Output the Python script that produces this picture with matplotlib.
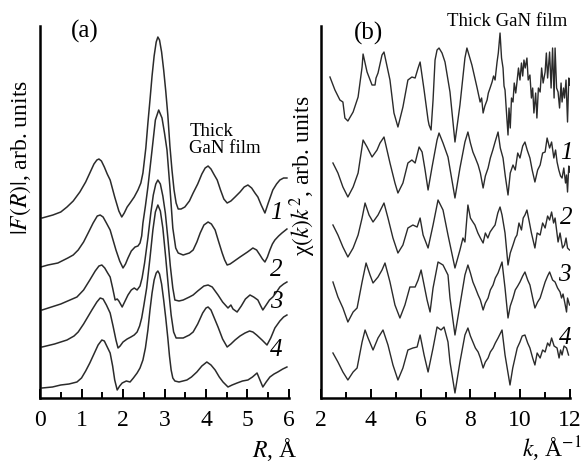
import matplotlib
matplotlib.use('Agg')
import matplotlib.pyplot as plt
from matplotlib.ticker import MultipleLocator

# ---- panel (a): |F(R)| curves, R in Angstrom, arb. units ----
R_thick = [0.05, 0.31, 0.5, 0.65, 0.8, 0.96, 1.1, 1.2, 1.3, 1.37, 1.42, 1.48, 1.55, 1.62, 1.69, 1.8,
           1.9, 1.97, 2.03, 2.1, 2.17, 2.27, 2.36, 2.43, 2.48, 2.55, 2.6, 2.65, 2.7, 2.75, 2.8, 2.84,
           2.88, 2.93, 2.98, 3.03, 3.08, 3.13, 3.18, 3.23, 3.28, 3.33, 3.4, 3.49, 3.6, 3.69, 3.8,
           3.9, 3.98, 4.05, 4.12, 4.2, 4.27, 4.35, 4.43, 4.51, 4.6, 4.7, 4.82, 4.92, 5.01, 5.1,
           5.18, 5.25, 5.33, 5.42, 5.5, 5.61, 5.7, 5.78, 5.87, 5.95]
F_thick = [180, 183, 186, 191, 197, 206, 216, 225, 234, 238, 239, 237, 231, 224, 218, 201,
           187, 181, 185, 191, 195, 201, 208, 215, 225, 250, 275, 298, 322, 342, 356, 361,
           358, 346, 328, 307, 283, 252, 228, 208, 195, 189, 189, 191, 197, 205, 214,
           224, 230, 232, 229, 223, 218, 208, 199, 195, 197, 201, 206, 211, 213, 210,
           205, 201, 193, 185, 195, 208, 214, 218, 220, 220]

R_1 = [0.02, 0.19, 0.43, 0.67, 0.8, 0.92, 1.05, 1.16, 1.28, 1.38, 1.45, 1.52, 1.6, 1.69, 1.76,
       1.83, 1.92, 2.0, 2.06, 2.12, 2.2, 2.29, 2.36, 2.41, 2.45, 2.48, 2.54, 2.6, 2.7, 2.78,
       2.86, 2.94, 3.0, 3.06, 3.13, 3.2, 3.27, 3.33, 3.45, 3.6, 3.69, 3.78, 3.86, 3.95, 4.05,
       4.13, 4.22, 4.3, 4.39, 4.45, 4.51, 4.58, 4.65, 4.82, 5.0, 5.13, 5.22, 5.3, 5.36, 5.42,
       5.48, 5.54, 5.6, 5.66, 5.75, 5.83, 5.95]
F_1 = [131, 133, 135, 140, 143, 148, 156, 165, 175, 182, 183, 181, 175, 168, 158,
       148, 137, 130, 134, 140, 147, 151, 152, 155, 162, 175, 192, 211, 248, 278,
       288, 280, 265, 248, 211, 170, 150, 145, 143, 145, 148, 156, 165, 173, 176,
       174, 168, 157, 145, 138, 133, 134, 136, 141, 146, 150, 148, 143, 139, 136,
       141, 148, 154, 158, 162, 165, 169]

R_2 = [0.05, 0.5, 0.89, 1.05, 1.2, 1.33, 1.42, 1.49, 1.56, 1.63, 1.69, 1.75, 1.81, 1.86, 1.9,
       1.98, 2.05, 2.12, 2.2, 2.27, 2.34, 2.41, 2.46, 2.52, 2.6, 2.67, 2.73, 2.79, 2.84, 2.9,
       2.96, 3.02, 3.08, 3.14, 3.2, 3.25, 3.35, 3.45, 3.6, 3.69, 3.8, 3.95, 4.05, 4.15, 4.29,
       4.4, 4.53, 4.6, 4.65, 4.75, 4.85, 4.95, 5.06, 5.15, 5.25, 5.32, 5.37, 5.45, 5.53, 5.61,
       5.7, 5.78, 5.87, 5.95]
F_2 = [88, 94, 101, 108, 118, 127, 132, 133, 130, 125, 121, 110, 98, 99, 97,
       91, 97, 103, 108, 110, 108, 112, 120, 135, 160, 185, 203, 214, 218, 214,
       202, 185, 160, 132, 110, 98, 97, 98, 101, 103, 107, 112, 113, 111, 103,
       96, 90, 93, 89, 86, 92, 99, 103, 101, 98, 92, 88, 93, 98, 101,
       106, 111, 114, 116]

R_3 = [0.05, 0.35, 0.65, 0.82, 0.92, 1.05, 1.15, 1.25, 1.37, 1.45, 1.52, 1.6, 1.69, 1.76, 1.83,
       1.88, 1.93, 2.0, 2.1, 2.19, 2.27, 2.34, 2.4, 2.45, 2.5, 2.57, 2.65, 2.72, 2.78, 2.84,
       2.9, 2.96, 3.03, 3.1, 3.16, 3.22, 3.28, 3.45, 3.6, 3.69, 3.8, 3.92, 4.0, 4.05, 4.12,
       4.2, 4.29, 4.4, 4.51, 4.6, 4.7, 4.82, 4.94, 5.05, 5.13, 5.22, 5.35, 5.47, 5.56, 5.66,
       5.78, 5.87, 5.95]
F_3 = [51, 54, 58, 62, 66, 74, 81, 88, 96, 100, 99, 93, 85, 72, 58,
       50, 52, 56, 59, 61, 63, 66, 72, 80, 92, 110, 140, 168, 186, 193,
       187, 170, 140, 108, 83, 66, 60, 60, 63, 66, 74, 85, 90, 91, 88,
       80, 71, 59, 51, 54, 58, 62, 65, 67, 66, 63, 58, 53, 60, 70,
       77, 81, 83]

R_4 = [0.05, 0.3, 0.5, 0.7, 0.89, 1.0, 1.1, 1.2, 1.3, 1.4, 1.49, 1.55, 1.62, 1.69, 1.75,
       1.8, 1.86, 1.92, 1.98, 2.08, 2.17, 2.25, 2.34, 2.41, 2.48, 2.54, 2.6, 2.65, 2.7, 2.75,
       2.8, 2.84, 2.88, 2.93, 2.98, 3.03, 3.08, 3.12, 3.16, 3.2, 3.25, 3.35, 3.54, 3.65, 3.78,
       3.9, 4.02, 4.12, 4.22, 4.32, 4.41, 4.53, 4.63, 4.75, 4.88, 5.01, 5.12, 5.23, 5.3, 5.37,
       5.45, 5.54, 5.64, 5.73, 5.85, 5.95]
F_4 = [10, 11, 13, 14, 16, 20, 27, 35, 44, 53, 58, 57, 51, 45, 32,
       18, 8, 12, 15, 17, 16, 20, 25, 30, 38, 50, 68, 88, 105, 118,
       125, 127, 124, 114, 98, 80, 60, 42, 28, 20, 17, 16, 18, 21, 26,
       32, 36, 33, 28, 21, 16, 11, 13, 15, 17, 18, 21, 25, 18, 11,
       16, 21, 24, 26, 29, 31]

# ---- panel (b): chi(k)k^2 curves, k in 1/Angstrom, arb. units ----
k_thick = [2.36, 2.56, 2.76, 2.88, 2.96, 3.08, 3.29, 3.49, 3.65, 3.69, 3.85, 4.05, 4.17, 4.21, 4.29,
           4.45, 4.53, 4.77, 4.93, 5.09, 5.29, 5.49, 5.65, 5.78, 5.9, 5.98, 6.14, 6.3, 6.34, 6.42,
           6.5, 6.58, 6.66, 6.74, 6.86, 6.98, 7.18, 7.38, 7.58, 7.78, 7.86, 8.06, 8.27, 8.39, 8.45,
           8.51, 8.58, 8.67, 8.72, 8.79, 8.87, 8.93, 8.99, 9.07, 9.12, 9.19, 9.25, 9.31, 9.35, 9.39,
           9.45, 9.51, 9.55, 9.6, 9.65, 9.71, 9.76, 9.82, 9.87, 9.93, 9.99, 10.05, 10.1, 10.15, 10.2,
           10.27, 10.32, 10.39, 10.45, 10.5, 10.55, 10.62, 10.67, 10.73, 10.8, 10.86, 10.92, 11.0,
           11.05, 11.1, 11.18, 11.24, 11.3, 11.36, 11.4, 11.46, 11.52, 11.58, 11.64, 11.68, 11.74,
           11.78, 11.84, 11.9, 11.95, 11.98]
chi_thick = [321, 308, 298, 296, 280, 277, 286, 301, 331, 344, 326, 313, 313, 320, 325,
             343, 346, 318, 285, 271, 291, 318, 321, 320, 330, 336, 308, 278, 273, 268,
             298, 338, 348, 350, 345, 336, 306, 256, 293, 340, 350, 333, 310, 296, 300,
             285, 292, 298, 305, 310, 316, 322, 318, 336, 345, 365, 340, 330, 312, 308,
             285, 263, 290, 270, 300, 296, 315, 305, 316, 330, 318, 335, 322, 338, 330,
             340, 318, 323, 300, 310, 285, 305, 280, 310, 306, 330, 315, 326,
             345, 320, 346, 310, 350, 300, 350, 310, 306, 290, 315, 296, 310,
             300, 318, 276, 320, 313]

k_1 = [2.48, 2.68, 2.88, 3.08, 3.29, 3.49, 3.69, 3.85, 4.05, 4.25, 4.37, 4.53, 4.77, 4.97, 5.09,
       5.29, 5.49, 5.65, 5.78, 5.94, 6.06, 6.18, 6.3, 6.46, 6.66, 6.74, 6.9, 7.1, 7.38, 7.58,
       7.78, 7.9, 8.0, 8.1, 8.2, 8.31, 8.4, 8.51, 8.6, 8.71, 8.8, 8.9, 8.99, 9.11, 9.2, 9.31,
       9.4, 9.51, 9.6, 9.71, 9.8, 9.9, 9.99, 10.1, 10.19, 10.28, 10.39, 10.48, 10.59, 10.7,
       10.8, 10.9, 11.0, 11.08, 11.18, 11.26, 11.35, 11.42, 11.48, 11.55, 11.62, 11.68, 11.75,
       11.82, 11.86, 11.9, 11.95, 11.98]
chi_1 = [235, 225, 211, 201, 211, 225, 258, 251, 241, 248, 255, 261, 235, 215, 205,
         215, 235, 238, 235, 251, 246, 228, 208, 231, 258, 265, 255, 241, 200, 230,
         256, 266, 255, 246, 240, 233, 225, 210, 222, 230, 240, 248, 256, 266, 250, 240,
         222, 203, 225, 233, 228, 245, 240, 252, 256, 248, 240, 228, 216, 228,
         233, 245, 246, 260, 250, 256, 240, 248, 236, 228, 222, 220, 230,
         215, 223, 206, 232, 226]

k_2 = [2.48, 2.68, 2.88, 3.08, 3.29, 3.49, 3.65, 3.77, 3.93, 4.09, 4.29, 4.53, 4.69, 4.89, 5.09,
       5.29, 5.49, 5.69, 5.86, 5.98, 6.1, 6.3, 6.5, 6.7, 6.9, 7.1, 7.38, 7.58, 7.7, 7.78, 7.9,
       8.0, 8.1, 8.18, 8.3, 8.4, 8.51, 8.6, 8.7, 8.79, 8.9, 8.99, 9.1, 9.19, 9.27, 9.39, 9.51,
       9.6, 9.71, 9.8, 9.87, 9.95, 10.05, 10.12, 10.19, 10.27, 10.35, 10.45, 10.59, 10.68, 10.8,
       10.9, 11.0, 11.1, 11.18, 11.26, 11.34, 11.4, 11.52, 11.6, 11.7, 11.78, 11.84, 11.9, 11.98]
chi_2 = [173, 163, 151, 141, 150, 163, 180, 195, 183, 176, 183, 195, 180, 160, 145,
         153, 170, 173, 171, 180, 163, 150, 173, 198, 188, 163, 130, 148, 160, 156, 193,
         180, 176, 173, 165, 160, 155, 165, 160, 166, 170, 173, 185, 191, 183, 165, 133,
         145, 153, 160, 163, 175, 168, 180, 183, 188, 178, 165, 150, 165, 163,
         175, 170, 182, 178, 186, 175, 180, 156, 165, 150, 153, 160, 150, 148]

k_3 = [2.48, 2.68, 2.88, 3.08, 3.29, 3.45, 3.65, 3.81, 3.97, 4.09, 4.29, 4.45, 4.57, 4.77, 4.97,
       5.17, 5.37, 5.57, 5.78, 5.9, 6.02, 6.14, 6.26, 6.38, 6.5, 6.7, 6.9, 7.1, 7.18, 7.38,
       7.58, 7.78, 7.9, 8.0, 8.1, 8.2, 8.31, 8.4, 8.51, 8.6, 8.71, 8.8, 8.91, 9.0, 9.11, 9.27,
       9.39, 9.51, 9.6, 9.71, 9.8, 9.9, 9.99, 10.1, 10.19, 10.3, 10.39, 10.5, 10.59, 10.7,
       10.8, 10.9, 11.0, 11.1, 11.18, 11.3, 11.4, 11.5, 11.6, 11.66, 11.72, 11.8, 11.86,
       11.9, 11.98]
chi_3 = [116, 101, 90, 76, 86, 90, 116, 135, 123, 115, 121, 128, 135, 116, 93,
         80, 93, 111, 111, 118, 128, 113, 98, 86, 110, 136, 133, 123, 100, 63,
         93, 123, 133, 125, 116, 110, 103, 98, 88, 95, 100, 108, 113, 120, 125, 136,
         110, 80, 92, 100, 108, 112, 116, 122, 126, 118, 113, 100, 90, 96,
         100, 108, 116, 122, 126, 118, 116, 110, 106, 100, 104, 94, 86,
         100, 93]

k_4 = [2.48, 2.68, 2.88, 3.08, 3.29, 3.45, 3.65, 3.77, 3.89, 4.09, 4.29, 4.49, 4.69, 4.89, 5.09,
       5.29, 5.49, 5.69, 5.86, 5.98, 6.14, 6.3, 6.5, 6.66, 6.82, 6.94, 7.1, 7.18, 7.38, 7.58,
       7.78, 7.9, 8.0, 8.1, 8.2, 8.31, 8.4, 8.51, 8.6, 8.71, 8.8, 8.91, 9.0, 9.11, 9.27, 9.39,
       9.59, 9.7, 9.79, 9.88, 9.99, 10.08, 10.19, 10.3, 10.39, 10.5, 10.59, 10.68, 10.8, 10.9,
       11.0, 11.1, 11.18, 11.26, 11.36, 11.48, 11.56, 11.62, 11.68, 11.76, 11.86, 11.94]
chi_4 = [45, 36, 26, 18, 26, 30, 56, 68, 60, 48, 60, 68, 53, 33, 18,
         30, 48, 50, 51, 63, 43, 26, 50, 71, 68, 71, 56, 36, 5, 36,
         63, 70, 62, 56, 50, 46, 40, 30, 36, 40, 46, 50, 55, 60, 68, 43,
         13, 30, 40, 50, 56, 62, 63, 55, 50, 40, 33, 45, 40, 48,
         46, 55, 52, 60, 52, 50, 40, 48, 43, 52, 50, 43]

labels_a = ['1', '2', '3', '4']
label_a_R = [5.7, 5.7, 5.7, 5.7]
label_a_y = [185, 128, 96, 48]
labels_b = ['1', '2', '3', '4']
label_b_k = [11.85, 11.85, 11.75, 11.8]
label_b_y = [245, 180, 123, 60]

plt.rcParams['font.family'] = 'Liberation Serif'
plt.rcParams['mathtext.fontset'] = 'stix'
plt.rcParams['font.size'] = 17

fig = plt.figure(figsize=(5.85, 4.63), dpi=100)
ax1 = fig.add_axes([0.0684, 0.1404, 0.4256, 0.8034])
ax2 = fig.add_axes([0.5487, 0.1404, 0.4257, 0.8034])

col = '#2b2b2b'
for x, y in [(R_thick, F_thick), (R_1, F_1), (R_2, F_2), (R_3, F_3), (R_4, F_4)]:
    ax1.plot(x, y, color=col, lw=1.1, solid_joinstyle='round')
for x, y in [(k_thick, chi_thick), (k_1, chi_1), (k_2, chi_2), (k_3, chi_3), (k_4, chi_4)]:
    ax2.plot(x, y, color=col, lw=1.0, solid_joinstyle='round')

for ax in (ax1, ax2):
    ax.set_ylim(0, 372)
    ax.spines['top'].set_visible(False)
    ax.spines['right'].set_visible(False)
    ax.spines['left'].set_linewidth(1.8)
    ax.spines['bottom'].set_linewidth(1.8)
    ax.set_yticks([])
    ax.tick_params(axis='x', direction='in', which='major', length=6.5, width=1.4, pad=9)
    ax.tick_params(axis='x', direction='in', which='minor', length=4.5, width=1.4)

ax1.set_xlim(0, 6)
ax1.xaxis.set_major_locator(MultipleLocator(1))
ax1.xaxis.set_minor_locator(MultipleLocator(0.5))
ax2.set_xlim(2, 12)
ax2.xaxis.set_major_locator(MultipleLocator(2))
ax2.xaxis.set_minor_locator(MultipleLocator(1))

ax1.text(0.18, 0.985, '(a)', transform=ax1.transAxes, fontsize=18, ha='center', va='center')
ax2.text(0.19, 0.98, '(b)', transform=ax2.transAxes, fontsize=18, ha='center', va='center')
ax1.text(3.6, 258, 'Thick\nGaN film', fontsize=13.5, ha='left', va='center', linespacing=0.95)
ax2.text(11.9, 377, 'Thick GaN film', fontsize=13.5, ha='right', va='center')

for t, x, y in zip(labels_a, label_a_R, label_a_y):
    ax1.text(x, y, t, fontsize=18, style='italic', ha='center', va='center')
for t, x, y in zip(labels_b, label_b_k, label_b_y):
    ax2.text(x, y, t, fontsize=18, style='italic', ha='center', va='center')

fig.text(0.036, 0.66, r'$|F(R)|$, arb. units', rotation=90, ha='center', va='center', fontsize=17)
fig.text(0.518, 0.62, r'χ$(k)k^2$, arb. units', rotation=90, ha='center', va='center', fontsize=17)
fig.text(0.508, 0.012, r'$R$, Å', ha='right', va='baseline', fontsize=17)
fig.text(0.995, 0.012, r'$k$, Å$^{-1}$', ha='right', va='baseline', fontsize=17)

fig.savefig('out.png', dpi=100)
